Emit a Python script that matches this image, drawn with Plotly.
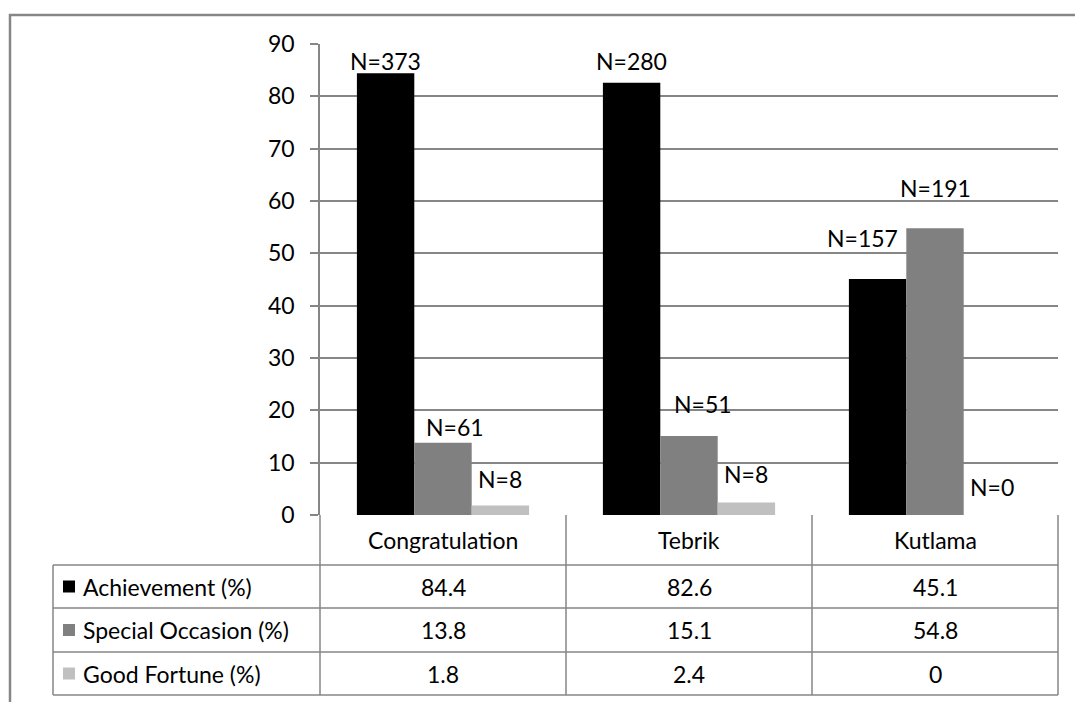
import plotly.graph_objects as go

# Chart data
categories = ["Congratulation", "Tebrik", "Kutlama"]
series_names = ["Achievement (%)", "Special Occasion (%)", "Good Fortune (%)"]
achievement = [84.4, 82.6, 45.1]
special_occasion = [13.8, 15.1, 54.8]
good_fortune = [1.8, 2.4, 0]
n_achievement = [373, 280, 157]
n_special = [61, 51, 191]
n_fortune = [8, 8, 0]
y_ticks = [0, 10, 20, 30, 40, 50, 60, 70, 80, 90]

series_values = [achievement, special_occasion, good_fortune]
series_counts = [n_achievement, n_special, n_fortune]
series_colors = ["#000000", "#808080", "#C0C0C0"]

# Manual nudges (px) for the N= labels: (dx, dy above bar top) per series/category
label_nudges = [
    [(0, 11), (0, 21), (-15, 40)],
    [(12, 15), (14, 31), (0, 39)],
    [(0, 26), (0, 27), (0, 27)],
]

W, H = 1075, 702
FONT = "Lato"
FS = 23
GRID = "#868686"

# Pixel geometry of the plot/table frame
px_left, px_right = 320, 1058
px_top, px_zero = 44, 515
table_left = 53
row_lines = [565, 608, 652, 695]


def fx(px):
    return px / W


def fy(py):
    return 1 - py / H


bargap = 0.30
bar_w = (1 - bargap) / 3

fig = go.Figure()
for name, vals, col in zip(series_names, series_values, series_colors):
    fig.add_trace(go.Bar(x=categories, y=vals, name=name, marker_color=col,
                         marker_line_width=0, showlegend=False))

annotations = []
# N= labels above bars
for j, (vals, counts) in enumerate(zip(series_values, series_counts)):
    for i, (v, n) in enumerate(zip(vals, counts)):
        dx, dy = label_nudges[j][i]
        annotations.append(dict(
            x=i + (j - 1) * bar_w, y=v, xref="x", yref="y",
            text=f"N={n}", showarrow=False, xanchor="center", yanchor="middle",
            xshift=dx, yshift=dy + 1, font=dict(family=FONT, size=FS, color="#000"),
        ))

# Data table: header row with category names
header_mid = (px_zero + row_lines[0]) / 2
for i, c in enumerate(categories):
    annotations.append(dict(
        x=i, y=fy(header_mid), xref="x", yref="paper", text=c, showarrow=False,
        xanchor="center", yanchor="middle", font=dict(family=FONT, size=FS, color="#000"),
    ))

shapes = []
# Value rows
for r, (name, vals, col) in enumerate(zip(series_names, series_values, series_colors)):
    mid = (row_lines[r] + row_lines[r + 1]) / 2
    shapes.append(dict(type="rect", xref="paper", yref="paper",
                       x0=fx(63), x1=fx(75), y0=fy(mid + 6), y1=fy(mid - 6),
                       fillcolor=col, line=dict(width=0)))
    annotations.append(dict(
        x=fx(81), y=fy(mid), xref="paper", yref="paper", text=name, showarrow=False,
        xanchor="left", yanchor="middle", font=dict(family=FONT, size=FS, color="#000"),
    ))
    for i, v in enumerate(vals):
        annotations.append(dict(
            x=i, y=fy(mid), xref="x", yref="paper", text=f"{v:g}", showarrow=False,
            xanchor="center", yanchor="middle", font=dict(family=FONT, size=FS, color="#000"),
        ))

line_style = dict(color=GRID, width=1.5)
# Horizontal table lines
for k, ry in enumerate(row_lines):
    shapes.append(dict(type="line", xref="paper", yref="paper",
                       x0=fx(table_left), x1=fx(px_right), y0=fy(ry), y1=fy(ry),
                       line=line_style))
# Vertical table lines (category column borders)
col_edges = [px_left + k * (px_right - px_left) / 3 for k in range(4)]
for cx in col_edges:
    shapes.append(dict(type="line", xref="paper", yref="paper",
                       x0=fx(cx), x1=fx(cx), y0=fy(px_zero), y1=fy(row_lines[-1]),
                       line=line_style))
shapes.append(dict(type="line", xref="paper", yref="paper",
                   x0=fx(table_left), x1=fx(table_left), y0=fy(row_lines[0]), y1=fy(row_lines[-1]),
                   line=line_style))
# Outer chart border
shapes.append(dict(type="rect", xref="paper", yref="paper",
                   x0=fx(10), x1=fx(1090), y0=fy(15), y1=fy(720),
                   line=dict(color=GRID, width=2.5), fillcolor="rgba(0,0,0,0)"))

fig.update_layout(
    template="none",
    width=W, height=H, autosize=False,
    margin=dict(l=0, r=0, t=0, b=0, pad=0, autoexpand=False),
    paper_bgcolor="white", plot_bgcolor="white",
    barmode="group", bargap=bargap, bargroupgap=0,
    annotations=annotations, shapes=shapes,
    xaxis=dict(domain=[fx(px_left), fx(px_right)], showticklabels=False,
               showgrid=False, zeroline=False, showline=False, ticks="",
               range=[-0.5, 2.5], automargin=False),
    yaxis=dict(domain=[fy(px_zero), fy(px_top)], range=[0, 90], tickvals=y_ticks,
               showgrid=True, gridcolor=GRID, gridwidth=1.5,
               showline=True, linecolor=GRID, linewidth=1.5,
               ticks="outside", ticklen=8, tickcolor=GRID, tickwidth=1.5,
               ticklabelstandoff=11, zeroline=False, automargin=False,
               tickfont=dict(family=FONT, size=FS, color="#000")),
)

fig.write_html("out.html")
